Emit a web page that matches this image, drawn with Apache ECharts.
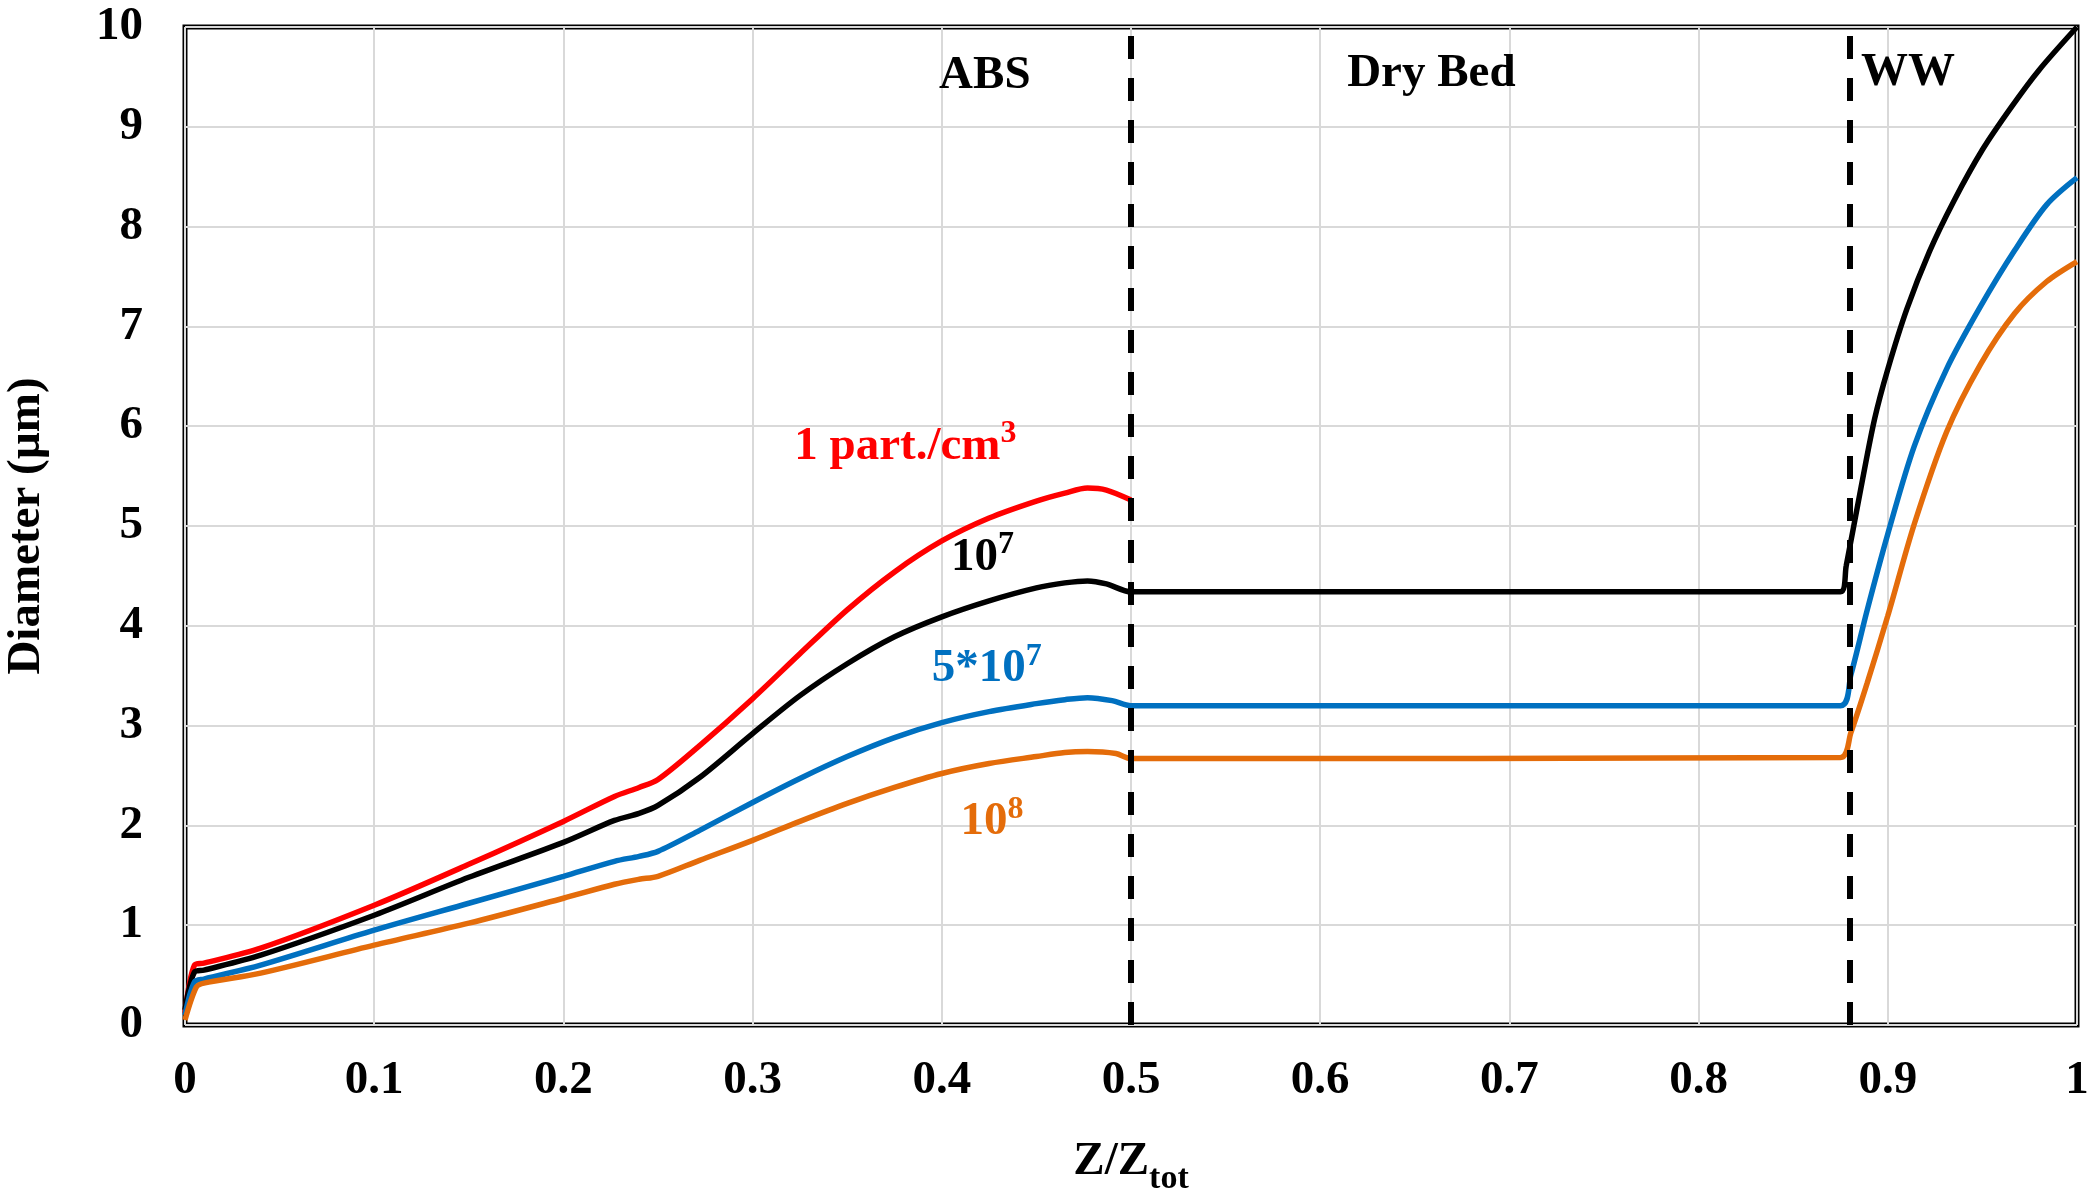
<!DOCTYPE html>
<html>
<head>
<meta charset="utf-8">
<script src="https://cdn.jsdelivr.net/npm/echarts@6/dist/echarts.min.js"></script>
<style>
  html, body { margin: 0; padding: 0; background: #fff; }
  #chart { width: 2095px; height: 1193px; }
</style>
</head>
<body>
<div id="chart"></div>
<script>
// [Z/Ztot, diameter um], one list per concentration
const conc1 = [[0, 0.12], [0.005, 0.6], [0.01, 0.62], [0.04, 0.77], [0.1, 1.2], [0.15, 1.61], [0.2, 2.04], [0.227, 2.29], [0.24, 2.38], [0.25, 2.46], [0.272, 2.8], [0.3, 3.27], [0.325, 3.72], [0.35, 4.16], [0.375, 4.54], [0.4, 4.85], [0.425, 5.08], [0.45, 5.25], [0.465, 5.33], [0.477, 5.38], [0.487, 5.36], [0.5, 5.26]]
const conc1e7 = [[0, 0.15], [0.005, 0.53], [0.01, 0.55], [0.04, 0.7], [0.1, 1.1], [0.15, 1.48], [0.2, 1.83], [0.227, 2.05], [0.24, 2.12], [0.25, 2.2], [0.272, 2.48], [0.3, 2.92], [0.325, 3.3], [0.35, 3.62], [0.375, 3.89], [0.4, 4.09], [0.425, 4.25], [0.45, 4.38], [0.465, 4.43], [0.477, 4.45], [0.487, 4.42], [0.5, 4.34], [0.875, 4.34], [0.878, 4.6], [0.886, 5.4], [0.893, 6.07], [0.9, 6.57], [0.91, 7.17], [0.922, 7.75], [0.935, 8.26], [0.95, 8.77], [0.965, 9.19], [0.98, 9.57], [1, 10]]
const conc5e7 = [[0, 0.1], [0.005, 0.43], [0.01, 0.46], [0.04, 0.6], [0.1, 0.95], [0.15, 1.22], [0.2, 1.49], [0.227, 1.64], [0.24, 1.69], [0.25, 1.74], [0.272, 1.95], [0.3, 2.23], [0.325, 2.47], [0.35, 2.69], [0.375, 2.88], [0.4, 3.03], [0.425, 3.14], [0.45, 3.22], [0.465, 3.26], [0.477, 3.28], [0.49, 3.25], [0.5, 3.2], [0.875, 3.2], [0.8805, 3.51], [0.889, 4.15], [0.9, 4.92], [0.914, 5.8], [0.931, 6.57], [0.949, 7.2], [0.967, 7.76], [0.984, 8.22], [1, 8.49]]
const conc1e8 = [[0, 0.05], [0.006, 0.38], [0.01, 0.42], [0.04, 0.52], [0.1, 0.8], [0.15, 1.02], [0.2, 1.27], [0.227, 1.41], [0.24, 1.46], [0.25, 1.49], [0.272, 1.65], [0.3, 1.85], [0.325, 2.04], [0.35, 2.22], [0.375, 2.38], [0.4, 2.52], [0.425, 2.62], [0.45, 2.69], [0.465, 2.73], [0.477, 2.74], [0.492, 2.72], [0.5, 2.67], [0.875, 2.68], [0.8805, 2.93], [0.889, 3.42], [0.9, 4.1], [0.914, 5.02], [0.931, 5.94], [0.949, 6.62], [0.967, 7.13], [0.984, 7.45], [1, 7.65]]

// section boundaries (dashed lines)
const zoneBounds = [0.501, 0.877]

// text notes: position in data units, text ('|' splits off a superscript), colour
const noteZ = [0.423, 0.659, 0.911, 0.381, 0.4218, 0.424, 0.4268]
const noteD = [9.51, 9.53, 9.54, 5.79, 4.68, 3.56, 2.03]
const noteText = ['ABS', 'Dry Bed', 'WW', '1 part./cm|3', '10|7', '5*10|7', '10|8']
const noteColor = ['#000000', '#000000', '#000000', '#FF0000', '#000000', '#0070C0', '#E46C0A']

const FONT = '"Liberation Serif", "Times New Roman", serif'

const chart = echarts.init(document.getElementById('chart'))

const lineSeries = (name, data, color) => ({
  name: name,
  type: 'line',
  data: data,
  showSymbol: false,
  smooth: 0.3,
  lineStyle: { color: color, width: 5.5 },
  z: 3
})

const noteData = noteText.map((t, i) => {
  const parts = t.split('|')
  const txt = parts.length > 1 ? `{m|${parts[0]}}{s|${parts[1]}}` : `{m|${parts[0]}}`
  return {
    value: [noteZ[i], noteD[i]],
    label: {
      formatter: txt,
      color: noteColor[i],
      rich: {
        m: { fontFamily: FONT, fontWeight: 'bold', fontSize: 47, lineHeight: 47, color: noteColor[i], verticalAlign: 'bottom' },
        s: { fontFamily: FONT, fontWeight: 'bold', fontSize: 32, lineHeight: 32, color: noteColor[i], verticalAlign: 'bottom', padding: [0, 0, 20, 0] }
      }
    }
  }
})

const option = {
  animation: false,
  backgroundColor: '#fff',
  grid: {
    left: 185,
    right: 18,
    top: 27,
    bottom: 168,
    outerBoundsMode: 'none',
    containLabel: false,
    show: true,
    borderColor: '#000',
    borderWidth: 5
  },
  xAxis: {
    type: 'value',
    min: 0,
    max: 1,
    interval: 0.1,
    name: '{m|Z/Z}{s|tot}',
    nameLocation: 'middle',
    nameGap: 113,
    nameTextStyle: {
      rich: {
        m: { fontFamily: FONT, fontWeight: 'bold', fontSize: 47, lineHeight: 47, color: '#000', verticalAlign: 'top' },
        s: { fontFamily: FONT, fontWeight: 'bold', fontSize: 34, lineHeight: 34, color: '#000', verticalAlign: 'top', padding: [24, 0, 0, 0] }
      }
    },
    axisLine: { show: false },
    axisTick: { show: false },
    axisLabel: {
      margin: 32,
      fontFamily: FONT,
      fontWeight: 'bold',
      fontSize: 47,
      color: '#000',
      formatter: v => String(+v.toFixed(1))
    },
    splitLine: { show: true, lineStyle: { color: '#d9d9d9', width: 2 } }
  },
  yAxis: {
    type: 'value',
    min: 0,
    max: 10,
    interval: 1,
    name: 'Diameter (µm)',
    nameLocation: 'middle',
    nameGap: 135,
    nameTextStyle: { fontFamily: FONT, fontWeight: 'bold', fontSize: 47, color: '#000' },
    axisLine: { show: false },
    axisTick: { show: false },
    axisLabel: { margin: 42, fontFamily: FONT, fontWeight: 'bold', fontSize: 47, color: '#000' },
    splitLine: { show: true, lineStyle: { color: '#d9d9d9', width: 2 } }
  },
  series: [
    lineSeries('1 part./cm3', conc1, '#FF0000'),
    lineSeries('1e7', conc1e7, '#000000'),
    lineSeries('5e7', conc5e7, '#0070C0'),
    Object.assign(lineSeries('1e8', conc1e8, '#E46C0A'), {
      markLine: {
        silent: true,
        symbol: 'none',
        label: { show: false },
        lineStyle: { color: '#000', width: 6, type: [23, 19], opacity: 1 },
        emphasis: { disabled: true },
        data: zoneBounds.map(b => ({ xAxis: b }))
      }
    }),
    {
      type: 'scatter',
      symbolSize: 1,
      silent: true,
      itemStyle: { opacity: 0 },
      label: { show: true, position: [0, 0], align: 'center', verticalAlign: 'middle', opacity: 1 },
      data: noteData,
      z: 5
    }
  ]
}

chart.setOption(option)
</script>
</body>
</html>
